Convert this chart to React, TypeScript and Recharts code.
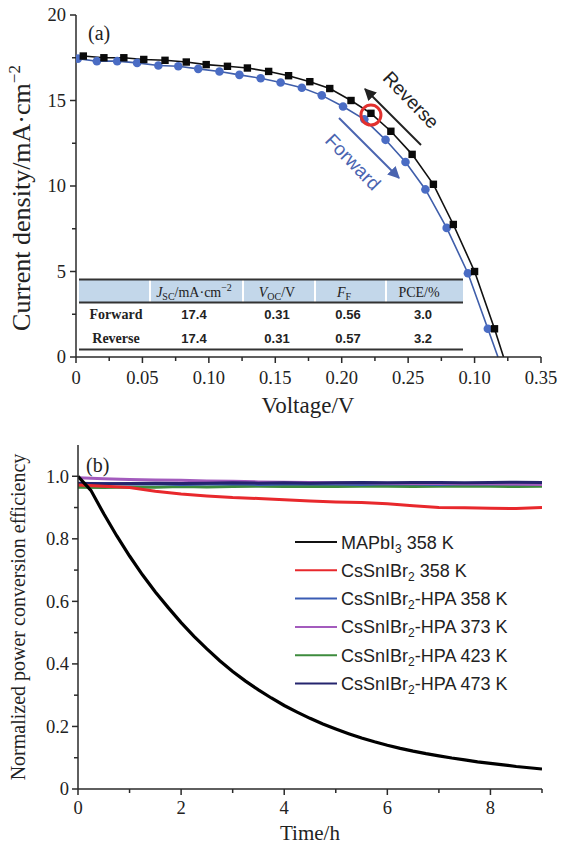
import React from 'react';
import { LineChart, Line, XAxis, YAxis, ReferenceDot } from 'recharts';

// ---------- panel (a): J–V curves ----------
const voltageTicks = [0, 0.05, 0.1, 0.15, 0.2, 0.25, 0.3, 0.35];
const voltageTickLabels = ['0', '0.05', '0.10', '0.15', '0.20', '0.25', '0.10', '0.35'];
const voltageMinorTicks = [0.025, 0.075, 0.125, 0.175, 0.225, 0.275, 0.325];
const currentTicks = [0, 5, 10, 15, 20];
const currentTickLabels = ['0', '5', '10', '15', '20'];
const currentMinorTicks = [2.5, 7.5, 12.5, 17.5];

const reverseVoltage = [0.0055, 0.021, 0.036, 0.051, 0.067, 0.083, 0.098, 0.114, 0.129, 0.145, 0.16, 0.176, 0.191, 0.207, 0.222, 0.237, 0.253, 0.269, 0.284, 0.3, 0.315, 0.3218];
const reverseCurrent = [17.6, 17.5, 17.5, 17.4, 17.35, 17.25, 17.1, 17.0, 16.9, 16.7, 16.45, 16.1, 15.7, 15.0, 14.25, 13.2, 11.85, 10.1, 7.75, 5.0, 1.65, 0];

const forwardVoltage = [0.0014, 0.0157, 0.031, 0.046, 0.062, 0.077, 0.092, 0.108, 0.123, 0.139, 0.154, 0.17, 0.185, 0.201, 0.217, 0.233, 0.248, 0.263, 0.279, 0.295, 0.31, 0.3176];
const forwardCurrent = [17.45, 17.3, 17.3, 17.2, 17.05, 17.0, 16.85, 16.7, 16.5, 16.3, 16.05, 15.75, 15.3, 14.65, 13.9, 12.7, 11.4, 9.8, 7.55, 4.9, 1.65, 0];

const tableRowNames = ['Forward', 'Reverse'];
const tableJsc = ['17.4', '17.4'];
const tableVoc = ['0.31', '0.31'];
const tableFF = ['0.56', '0.57'];
const tablePCE = ['3.0', '3.2'];

// ---------- panel (b): stability ----------
const timeTicks = [0, 2, 4, 6, 8];
const timeTickLabels = ['0', '2', '4', '6', '8'];
const timeMinorTicks = [1, 3, 5, 7, 9];
const pceTicks = [0, 0.2, 0.4, 0.6, 0.8, 1.0];
const pceTickLabels = ['0', '0.2', '0.4', '0.6', '0.8', '1.0'];
const pceMinorTicks = [0.1, 0.3, 0.5, 0.7, 0.9];

const timeFine = [0, 0.25, 0.5, 0.75, 1, 1.25, 1.5, 1.75, 2, 2.25, 2.5, 2.75, 3, 3.25, 3.5, 3.75, 4, 4.25, 4.5, 4.75, 5, 5.25, 5.5, 5.75, 6, 6.25, 6.5, 6.75, 7, 7.25, 7.5, 7.75, 8, 8.25, 8.5, 8.75, 9];
const mapbi3At358 = [1.0, 0.955, 0.88, 0.81, 0.745, 0.685, 0.63, 0.58, 0.532, 0.488, 0.448, 0.41, 0.376, 0.345, 0.317, 0.291, 0.267, 0.246, 0.226, 0.208, 0.192, 0.177, 0.163, 0.151, 0.14, 0.13, 0.121, 0.113, 0.106, 0.099, 0.093, 0.087, 0.082, 0.077, 0.072, 0.068, 0.064];

const timeCoarse = [0, 0.5, 1, 1.5, 2, 2.5, 3, 3.5, 4, 4.5, 5, 5.5, 6, 6.5, 7, 7.5, 8, 8.5, 9];
const cssnibr2At358 = [0.972, 0.968, 0.964, 0.952, 0.943, 0.937, 0.932, 0.929, 0.925, 0.921, 0.918, 0.916, 0.912, 0.906, 0.9, 0.899, 0.898, 0.897, 0.9];
const hpaAt358 = [0.976, 0.977, 0.975, 0.976, 0.974, 0.975, 0.976, 0.974, 0.975, 0.976, 0.975, 0.974, 0.976, 0.975, 0.974, 0.976, 0.975, 0.976, 0.975];
const hpaAt373 = [0.995, 0.992, 0.99, 0.988, 0.987, 0.985, 0.984, 0.982, 0.981, 0.98, 0.979, 0.979, 0.978, 0.977, 0.977, 0.976, 0.976, 0.975, 0.974];
const hpaAt423 = [0.965, 0.964, 0.966, 0.965, 0.967, 0.966, 0.967, 0.968, 0.967, 0.968, 0.967, 0.968, 0.968, 0.967, 0.968, 0.969, 0.968, 0.967, 0.968];
const hpaAt473 = [0.978, 0.976, 0.977, 0.978, 0.977, 0.978, 0.979, 0.978, 0.979, 0.978, 0.979, 0.98, 0.979, 0.98, 0.98, 0.979, 0.98, 0.981, 0.98];

const SERIF = '"Liberation Serif", "Times New Roman", serif';
const SANS = '"Liberation Sans", Arial, sans-serif';
const AXIS = '#2a2a2a';
const INK = '#222';

const toPoints = (xs: number[], ys: number[]) => xs.map((x, i) => ({ x, y: ys[i] }));

const reverseData = toPoints(reverseVoltage, reverseCurrent);
const forwardData = toPoints(forwardVoltage, forwardCurrent);

const same = (a: number, b: number) => Math.abs(a - b) < 1e-9;
const sortNums = (a: number[]) => [...a].sort((p, q) => p - q);

function makeBottomTick(majors: number[], labels: string[], fontSize: number, dy: number) {
  return (props: any) => {
    const { x, y, payload } = props;
    const i = majors.findIndex((m) => same(m, payload.value));
    const major = i >= 0;
    return (
      <g>
        <line x1={x} x2={x} y1={y} y2={y + (major ? 6 : 4)} stroke={AXIS} strokeWidth={1.5} />
        {major && (
          <text x={x} y={y + dy} textAnchor="middle" style={{ fontFamily: SERIF, fontSize }} fill={INK}>
            {labels[i]}
          </text>
        )}
      </g>
    );
  };
}

function makeLeftTick(majors: number[], labels: string[], fontSize: number, gap: number) {
  return (props: any) => {
    const { x, y, payload } = props;
    const i = majors.findIndex((m) => same(m, payload.value));
    const major = i >= 0;
    return (
      <g>
        <line x1={x} x2={x - (major ? 6 : 4)} y1={y} y2={y} stroke={AXIS} strokeWidth={1.5} />
        {major && (
          <text x={x - gap} y={y + fontSize * 0.34} textAnchor="end" style={{ fontFamily: SERIF, fontSize }} fill={INK}>
            {labels[i]}
          </text>
        )}
      </g>
    );
  };
}

function rightInwardTick(props: any) {
  const { x, y } = props;
  return <line x1={x} x2={x - 7} y1={y} y2={y} stroke={AXIS} strokeWidth={1.5} />;
}

const SquareDot = (props: any) => {
  const { cx, cy, index } = props;
  if (index === reverseVoltage.length - 1) return <g key={`sq-${index}`} />;
  return <rect key={`sq-${index}`} x={cx - 3.7} y={cy - 3.7} width={7.4} height={7.4} fill="#0a0a0a" />;
};

const CircleDot = (props: any) => {
  const { cx, cy, index } = props;
  if (index === forwardVoltage.length - 1) return <g key={`ci-${index}`} />;
  return <circle key={`ci-${index}`} cx={cx} cy={cy} r={4.3} fill="#4a6cc4" />;
};

const legendItems = [
  { base: 'MAPbI', sub: '3', rest: ' 358 K', color: '#111111' },
  { base: 'CsSnIBr', sub: '2', rest: ' 358 K', color: '#e8282c' },
  { base: 'CsSnIBr', sub: '2', rest: '-HPA 358 K', color: '#3a5cb4' },
  { base: 'CsSnIBr', sub: '2', rest: '-HPA 373 K', color: '#a35bbd' },
  { base: 'CsSnIBr', sub: '2', rest: '-HPA 423 K', color: '#3d8b3d' },
  { base: 'CsSnIBr', sub: '2', rest: '-HPA 473 K', color: '#25256e' },
];

export default function App() {
  const colX = [116, 194, 277, 344, 419];
  const rowY = [319, 343];
  const serifText = (size: number) => ({ fontFamily: SERIF, fontSize: size });
  const sansText = (size: number) => ({ fontFamily: SANS, fontSize: size });
  return (
    <div style={{ position: 'absolute', left: 0, top: 0, width: 571, height: 847, background: '#fff', fontFamily: SERIF }}>
      {/* (a) J–V */}
      <div style={{ position: 'absolute', left: 0, top: 0 }}>
        <LineChart width={571} height={420} margin={{ top: 15, right: 30, bottom: 0, left: 0 }}>
          <XAxis
            type="number"
            dataKey="x"
            domain={[0, 0.35]}
            ticks={sortNums([...voltageTicks, ...voltageMinorTicks])}
            interval={0}
            tickSize={0}
            tickMargin={0}
            tickLine={false}
            tick={makeBottomTick(voltageTicks, voltageTickLabels, 18.5, 27)}
            axisLine={{ stroke: AXIS, strokeWidth: 1.5 }}
            height={63}
            allowDataOverflow
          />
          <XAxis xAxisId="frame" orientation="top" type="number" domain={[0, 0.35]} height={0} tick={false} tickLine={false} axisLine={{ stroke: AXIS, strokeWidth: 1.5 }} />
          <YAxis
            type="number"
            domain={[0, 20]}
            ticks={sortNums([...currentTicks, ...currentMinorTicks])}
            interval={0}
            tickSize={0}
            tickMargin={0}
            tickLine={false}
            tick={makeLeftTick(currentTicks, currentTickLabels, 18.5, 10)}
            axisLine={{ stroke: AXIS, strokeWidth: 1.5 }}
            width={76}
            allowDataOverflow
          />
          <YAxis yAxisId="frame" orientation="right" type="number" domain={[0, 20]} width={0} tick={false} tickLine={false} axisLine={{ stroke: AXIS, strokeWidth: 1.5 }} />
          <Line data={forwardData} dataKey="y" stroke="#3f5eaa" strokeWidth={1.6} dot={CircleDot} isAnimationActive={false} />
          <Line data={reverseData} dataKey="y" stroke="#111" strokeWidth={1.6} dot={SquareDot} isAnimationActive={false} />
          <ReferenceDot x={reverseVoltage[14]} y={14.15} r={10} fill="none" stroke="#e2302e" strokeWidth={3} />
        </LineChart>
      </div>

      {/* (b) stability */}
      <div style={{ position: 'absolute', left: 0, top: 420 }}>
        <LineChart width={571} height={427} margin={{ top: 25, right: 29, bottom: 0, left: 0 }}>
          <XAxis
            type="number"
            dataKey="x"
            domain={[0, 9]}
            ticks={sortNums([...timeTicks, ...timeMinorTicks])}
            interval={0}
            tickSize={0}
            tickMargin={0}
            tickLine={false}
            tick={makeBottomTick(timeTicks, timeTickLabels, 18.5, 25)}
            axisLine={{ stroke: AXIS, strokeWidth: 1.5 }}
            height={58}
            allowDataOverflow
          />
          <XAxis xAxisId="frame" orientation="top" type="number" domain={[0, 9]} height={0} tick={false} tickLine={false} axisLine={{ stroke: AXIS, strokeWidth: 1.5 }} />
          <YAxis
            type="number"
            domain={[0, 1.1]}
            ticks={sortNums([...pceTicks, ...pceMinorTicks])}
            interval={0}
            tickSize={0}
            tickMargin={0}
            tickLine={false}
            tick={makeLeftTick(pceTicks, pceTickLabels, 18.5, 9)}
            axisLine={{ stroke: AXIS, strokeWidth: 1.5 }}
            width={78}
            allowDataOverflow
          />
          <YAxis
            yAxisId="right"
            orientation="right"
            type="number"
            domain={[0, 1.1]}
            ticks={sortNums([...pceTicks, ...pceMinorTicks])}
            interval={0}
            tickSize={0}
            tickMargin={0}
            tickLine={false}
            tick={rightInwardTick}
            axisLine={{ stroke: AXIS, strokeWidth: 1.5 }}
            width={0}
          />
          <Line data={toPoints(timeCoarse, hpaAt423)} dataKey="y" stroke="#3d8b3d" strokeWidth={3} dot={false} isAnimationActive={false} />
          <Line data={toPoints(timeCoarse, hpaAt358)} dataKey="y" stroke="#3a5cb4" strokeWidth={3} dot={false} isAnimationActive={false} />
          <Line data={toPoints(timeCoarse, hpaAt373)} dataKey="y" stroke="#a35bbd" strokeWidth={3} dot={false} isAnimationActive={false} />
          <Line data={toPoints(timeCoarse, hpaAt473)} dataKey="y" stroke="#25256e" strokeWidth={3} dot={false} isAnimationActive={false} />
          <Line data={toPoints(timeCoarse, cssnibr2At358)} dataKey="y" stroke="#e8282c" strokeWidth={3} dot={false} isAnimationActive={false} />
          <Line data={toPoints(timeFine, mapbi3At358)} dataKey="y" stroke="#000" strokeWidth={3.2} dot={false} isAnimationActive={false} />
        </LineChart>
      </div>

      {/* titles, annotations, table and legend */}
      <svg width={571} height={847} style={{ position: 'absolute', left: 0, top: 0, pointerEvents: 'none' }}>
        <defs>
          <marker id="headBlack" viewBox="0 0 10 10" refX="9" refY="5" markerWidth="6" markerHeight="6" orient="auto-start-reverse">
            <path d="M0,0 L10,5 L0,10 z" fill={INK} />
          </marker>
          <marker id="headBlue" viewBox="0 0 10 10" refX="9" refY="5" markerWidth="6" markerHeight="6" orient="auto-start-reverse">
            <path d="M0,0 L10,5 L0,10 z" fill="#4a64b0" />
          </marker>
        </defs>

        {/* panel labels */}
        <text x={88} y={40} style={serifText(20)} fill={INK}>(a)</text>
        <text x={86} y={472} style={serifText(20)} fill={INK}>(b)</text>

        {/* axis titles */}
        <text x={308} y={413} textAnchor="middle" style={serifText(23)} fill={INK}>Voltage/V</text>
        <text x={310} y={840} textAnchor="middle" style={serifText(21)} fill={INK}>Time/h</text>
        <text transform="translate(30,198) rotate(-90)" textAnchor="middle" style={serifText(26)} fill={INK}>
          Current density/mA·cm<tspan dy={-10} style={{ fontSize: 17 }}>−2</tspan>
        </text>
        <text transform="translate(25,617) rotate(-90)" textAnchor="middle" style={serifText(20)} fill={INK}>
          Normalized power conversion efficiency
        </text>

        {/* sweep direction arrows */}
        <line x1={421} y1={145} x2={365} y2={89} stroke={INK} strokeWidth={2} markerEnd="url(#headBlack)" />
        <text transform="translate(411,100) rotate(46)" textAnchor="middle" dominantBaseline="central" style={sansText(19)} fill={INK}>Reverse</text>
        <line x1={339} y1={118} x2={399} y2={178} stroke="#4a64b0" strokeWidth={2} markerEnd="url(#headBlue)" />
        <text transform="translate(353,162) rotate(46)" textAnchor="middle" dominantBaseline="central" style={sansText(19)} fill="#4a64b0">Forward</text>

        {/* parameter table */}
        <rect x={79} y={280} width={384} height={22} fill="#c3d7ea" />
        {[150, 243, 315, 386].map((sx) => (
          <line key={sx} x1={sx} x2={sx} y1={280} y2={302} stroke="#fff" strokeWidth={2} />
        ))}
        <line x1={79} x2={463} y1={279.5} y2={279.5} stroke="#333" strokeWidth={2} />
        <line x1={79} x2={463} y1={302.5} y2={302.5} stroke="#333" strokeWidth={2} />
        <line x1={79} x2={463} y1={349.5} y2={349.5} stroke="#333" strokeWidth={2} />
        <text x={colX[1]} y={297} textAnchor="middle" style={serifText(14)} fill={INK}>
          <tspan fontStyle="italic">J</tspan>
          <tspan style={{ fontSize: 10 }} dy={3}>SC</tspan>
          <tspan dy={-3}>/mA·cm</tspan>
          <tspan style={{ fontSize: 10 }} dy={-6}>−2</tspan>
        </text>
        <text x={colX[2]} y={297} textAnchor="middle" style={serifText(14)} fill={INK}>
          <tspan fontStyle="italic">V</tspan>
          <tspan style={{ fontSize: 10 }} dy={3}>OC</tspan>
          <tspan dy={-3}>/V</tspan>
        </text>
        <text x={colX[3]} y={297} textAnchor="middle" style={serifText(14)} fill={INK}>
          <tspan fontStyle="italic">F</tspan>
          <tspan style={{ fontSize: 10 }} dy={3}>F</tspan>
        </text>
        <text x={colX[4]} y={297} textAnchor="middle" style={serifText(14)} fill={INK}>PCE/%</text>
        {tableRowNames.map((name, r) => (
          <g key={name}>
            <text x={colX[0]} y={rowY[r]} textAnchor="middle" style={serifText(14)} fontWeight="bold" fill={INK}>{name}</text>
            <text x={colX[1]} y={rowY[r]} textAnchor="middle" style={sansText(13)} fontWeight="bold" fill={INK}>{tableJsc[r]}</text>
            <text x={colX[2]} y={rowY[r]} textAnchor="middle" style={sansText(13)} fontWeight="bold" fill={INK}>{tableVoc[r]}</text>
            <text x={colX[3] + 4} y={rowY[r]} textAnchor="middle" style={sansText(13)} fontWeight="bold" fill={INK}>{tableFF[r]}</text>
            <text x={colX[4] + 4} y={rowY[r]} textAnchor="middle" style={sansText(13)} fontWeight="bold" fill={INK}>{tablePCE[r]}</text>
          </g>
        ))}

        {/* legend for (b) */}
        {legendItems.map((it, i) => {
          const y = 542 + i * 28.3;
          return (
            <g key={i}>
              <line x1={295} x2={337} y1={y} y2={y} stroke={it.color} strokeWidth={2} />
              <text x={341} y={y + 6.5} style={sansText(18)} fill={INK}>
                {it.base}
                <tspan style={{ fontSize: 12 }} dy={4}>{it.sub}</tspan>
                <tspan dy={-4}>{it.rest}</tspan>
              </text>
            </g>
          );
        })}
      </svg>
    </div>
  );
}
